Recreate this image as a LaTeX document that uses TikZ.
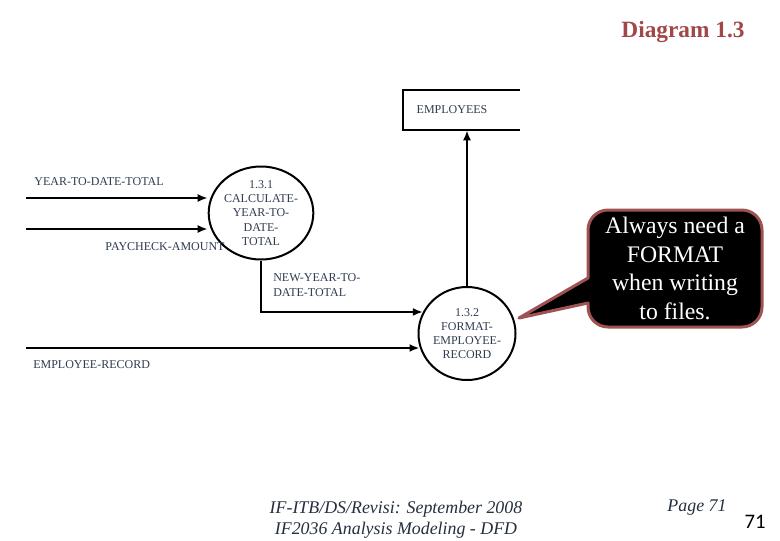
\documentclass[tikz,border=0pt]{standalone}
\usepackage{fontspec}
\setmainfont{Liberation Serif}
\newfontfamily\carlito{Carlito}
\usetikzlibrary{arrows.meta,shapes.geometric,calc}
\definecolor{txtc}{HTML}{2E3B4E}
\definecolor{titlec}{HTML}{A04848}
\definecolor{calloutc}{HTML}{A05252}
\tikzset{
  flow/.style={line width=1.5pt,-{Latex[length=7.5pt,width=6pt]}},
  plain/.style={line width=1.5pt},
  proc/.style={ellipse,draw,line width=1.5pt,inner sep=0pt,align=center,text=txtc,
    font=\fontsize{9}{10.7}\selectfont},
  lbl/.style={inner sep=0pt,text=txtc,font=\fontsize{9}{11}\selectfont},
  store/.style={rectangle,inner sep=0pt,minimum width=87.75pt,minimum height=30pt},
  callout/.style={draw=calloutc,fill=black,line width=2.25pt,line join=round},
  foot/.style={inner sep=0pt,text=txtc!80!black,font=\fontsize{13.4}{15.75}\selectfont\itshape,align=center}
}
\begin{document}
\begin{tikzpicture}[x=0.75pt,y=-0.75pt]
\useasboundingbox (0,0) rectangle (780,540);
% title
\node[inner sep=0pt,text=titlec,font=\fontsize{17.5}{20}\selectfont\bfseries] (title) at (683,32) {Diagram 1.3};
% data store
\node[store] (emp) at (461.5,110) {};
\draw[plain] (emp.north east) -- (emp.north west) -- (emp.south west) -- (emp.south east);
\node[lbl] (emplbl) at (452,109.5) {EMPLOYEES};
% processes
\node[proc,minimum width=63pt,minimum height=69.75pt] (p1) at (261,213) {1.3.1\\CALCULATE-\\YEAR-TO-\\DATE-\\TOTAL};
\node[proc,minimum width=72.75pt,minimum height=69.75pt] (p2) at (467,333.5) {1.3.2\\FORMAT-\\EMPLOYEE-\\RECORD};
% inputs
\coordinate (in1) at (26,198);
\coordinate (in2) at (26,229);
\coordinate (in3) at (26,348);
\draw[flow] (in1) -- (in1 -| p1.west);
\draw[flow] (in2) -- (in2 -| p1.west);
\draw[flow] (in3) -- ($(in3 -| p2.west)+(2,0)$);
\draw[flow] (p1.south) |- (p2.154);
\draw[flow] (p2.north) -- (p2.north |- emp.south);
% labels
\node[lbl] (l1) at (99,182) {YEAR-TO-DATE-TOTAL};
\node[lbl] (l2) at (165,246.5) {PAYCHECK-AMOUNT};
\node[lbl,anchor=north west,align=left,font=\fontsize{9}{11.25}\selectfont] (l3) at (273,273) {NEW-YEAR-TO-\\DATE-TOTAL};
\node[lbl,anchor=west] (l4) at (33,364.5) {EMPLOYEE-RECORD};
% callout
\draw[callout] (588,278) [rounded corners=15pt] -- (588,210) -- (762,210) -- (762,327) -- (588,327) [sharp corners] -- (588,303) -- (519,318) -- cycle;
\node[inner sep=0pt,text=white,align=center,font=\fontsize{17.8}{21.4}\selectfont] (note) at (675,268.5) {Always need a\\FORMAT\\when writing\\to files.};
% footer
\node[foot] (f1) at (396,519.5) {IF-ITB/DS/Revisi: September 2008\\IF2036 Analysis Modeling - DFD};
\node[foot] (f2) at (697,507) {Page 71};
\node[inner sep=0pt,font=\fontsize{15.5}{18}\carlito] (pg) at (755,522) {71};
\end{tikzpicture}
\end{document}
